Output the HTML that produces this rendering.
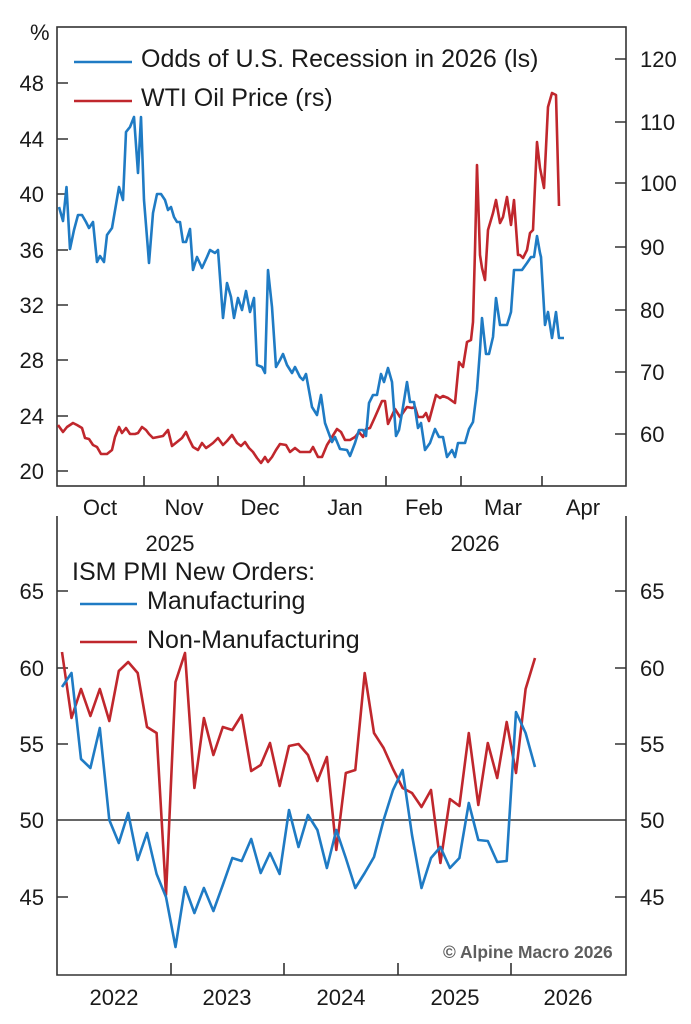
<!DOCTYPE html>
<html><head><meta charset="utf-8"><style>
html,body{margin:0;padding:0;background:#fff;}
svg{display:block;}
text{font-family:"Liberation Sans",Arial,sans-serif;fill:#1a1a1a;}
</style></head><body>
<svg width="691" height="1024" viewBox="0 0 691 1024" xmlns="http://www.w3.org/2000/svg">
<rect width="691" height="1024" fill="#fff"/>
<!-- TOP PANEL -->
<g stroke="#333" stroke-width="1.6" fill="none">
<rect x="57" y="27" width="569" height="459"/>
<path d="M57 83h11M57 139h11M57 194h11M57 250h11M57 305h11M57 360h11M57 416h11M57 471h11"/>
<path d="M615 59h11M615 122h11M615 183h11M615 247h11M615 310h11M615 372h11M615 434h11"/>
<path d="M144 486v-10M218 486v-10M304 486v-10M386 486v-10M461 486v-10M542 486v-10"/>
</g>
<g font-size="22" text-anchor="end">
<text x="44" y="91">48</text><text x="44" y="147">44</text><text x="44" y="202">40</text><text x="44" y="258">36</text>
<text x="44" y="313">32</text><text x="44" y="368">28</text><text x="44" y="424">24</text><text x="44" y="479">20</text>
</g>
<text x="30" y="40" font-size="22">%</text>
<g font-size="22">
<text x="640" y="67">120</text><text x="640" y="130">110</text><text x="640" y="191">100</text><text x="640" y="255">90</text>
<text x="640" y="318">80</text><text x="640" y="380">70</text><text x="640" y="442">60</text>
</g>
<g font-size="22" text-anchor="middle">
<text x="100" y="515">Oct</text><text x="184" y="515">Nov</text><text x="260" y="515">Dec</text><text x="345" y="515">Jan</text>
<text x="424" y="515">Feb</text><text x="503" y="515">Mar</text><text x="583" y="515">Apr</text>
<text x="170" y="551">2025</text><text x="475" y="551">2026</text>
</g>
<!-- legend top -->
<path d="M74 62h58" stroke="#1f7bc4" stroke-width="2.4"/>
<path d="M74 101h58" stroke="#c0272d" stroke-width="2.4"/>
<text x="141" y="67" font-size="25">Odds of U.S. Recession in 2026 (ls)</text>
<text x="141" y="106" font-size="25">WTI Oil Price (rs)</text>
<!-- top series -->
<polyline fill="none" stroke="#c0272d" stroke-width="2.6" stroke-linejoin="round" points="58,425 63,432 67,427 73,423 77,425 82,428 85,438 89,439 93,445 97,447 101,454 107,454 112,450 115,437 119,427 122,433 126,428 130,434 135,434 138,433 142,427 146,430 149,434 153,438 158,437 163,436 168,430 172,446 177,442 182,438 186,432 189,439 193,447 198,450 202,443 206,448 209,446 213,443 218,438 223,445 227,441 232,435 237,443 241,446 245,442 249,448 253,452 257,458 261,463 265,457 268,462 272,457 276,450 280,444 286,445 290,452 295,448 300,452 305,452 310,452 313,447 318,457 322,457 327,445 332,437 337,429 341,432 345,440 350,440 355,437 359,432 363,437 366,429 370,428 375,417 382,401 385,401 388,424 395,409 400,417 407,407 412,408 415,407 418,417 423,417 426,413 429,421 436,395 440,398 443,396 448,398 455,403 459,362 463,367 467,342 471,340 473,322 475,250 477,165 480,255 482,268 485,280 488,230 493,213 496,200 500,223 503,217 507,197 511,225 514,200 518,255 520,255 523,258 527,250 530,233 533,230 537,142 540,168 544,188 548,107 552,93 556,95 559,206"/>
<polyline fill="none" stroke="#1f7bc4" stroke-width="2.6" stroke-linejoin="round" points="59,207 63,221 66.5,187 70,249 74,230 78,215 82,215 86,222 89,228 93,222 97,262 100,256 104,262 107,235 112,228 119,187 123,200 126,132 130,127 134,117 138,173 141,117 144,200 148,250 149,263 153,213 157,194 161,194 165,200 168,210 171,207 174,217 177,222 180,222 183,242 186,242 190,229 193,270 197,257 202,268 207,257 210,250 215,253 218,250 223,318 227,283 231,297 234,318 238,298 242,310 246,291 250,312 254,298 257,365 262,367 265,373 268,270 272,307 276,367 280,360 283,354 287,365 292,373 295,367 300,377 303,380 306,374 312,407 317,415 321,395 325,423 332,442 335,437 340,449 347,450 350,456 355,443 359,430 363,430 366,436 369,403 373,395 377,395 381,374 384,382 388,368 392,382 396,436 399,430 403,407 407,382 410,402 414,402 418,428 421,423 425,450 430,443 435,429 439,437 443,437 447,457 452,450 455,457 458,443 465,443 469,429 473,422 477,390 480,350 482,318 486,354 489,354 493,337 496,298 500,325 507,325 511,312 514,270 522,270 527,263 531,257 534,257 537,236 540,253 541,257 545,325 548,312 552,338 556,312 559,338 564,338"/>

<!-- BOTTOM PANEL -->
<g stroke="#333" stroke-width="1.6" fill="none">
<path d="M57 516V975H626V516"/>
<path d="M57 591h11M57 668h11M57 744h11M57 897h11"/>
<path d="M615 591h11M615 668h11M615 744h11M615 897h11"/>
<path d="M57 820H626"/>
<path d="M171 975v-12M284 975v-12M398 975v-12M511 975v-12"/>
</g>
<g font-size="22" text-anchor="end">
<text x="44" y="599">65</text><text x="44" y="676">60</text><text x="44" y="752">55</text><text x="44" y="828">50</text><text x="44" y="905">45</text>
</g>
<g font-size="22">
<text x="640" y="599">65</text><text x="640" y="676">60</text><text x="640" y="752">55</text><text x="640" y="828">50</text><text x="640" y="905">45</text>
</g>
<g font-size="22" text-anchor="middle">
<text x="114" y="1005">2022</text><text x="227" y="1005">2023</text><text x="341" y="1005">2024</text><text x="455" y="1005">2025</text><text x="568" y="1005">2026</text>
</g>
<text x="72" y="580" font-size="25">ISM PMI New Orders:</text>
<path d="M80 604h57" stroke="#1f7bc4" stroke-width="2.4"/>
<path d="M80 642h57" stroke="#c0272d" stroke-width="2.4"/>
<text x="147" y="609" font-size="25">Manufacturing</text>
<text x="147" y="648" font-size="25">Non-Manufacturing</text>
<polyline fill="none" stroke="#c0272d" stroke-width="2.6" stroke-linejoin="round" points="62,652 71.5,718 81,689 90.4,716 99.8,689 109.3,721 118.8,671 128.2,662 137.7,673 147,727 156.6,733 166,895 175.5,682 185,653 194.4,788 203.9,718 213.4,755 222.8,727 232.3,730 241.7,715 251.2,771 260.7,765 270,743 279.6,786 289,746 298.5,744 308,755 317.4,781 326.9,757 336.3,850 345.8,773 355.3,770 364.7,673 374,733 383.6,748 393,769 402.6,788 412,793 421.5,807 431,790 440.4,863 449.9,799 459.4,806 468.8,733 478.3,805 487.8,743 497.2,778 506.7,722 516,773 525.6,689 535,658"/>
<polyline fill="none" stroke="#1f7bc4" stroke-width="2.6" stroke-linejoin="round" points="62,687 71.5,673 81,759 90.4,768 99.8,728 109.3,820 118.8,843 128.2,813 137.7,860 147,833 156.6,874 166,897 175.5,947 185,887 194.4,913 203.9,888 213.4,911 222.8,885 232.3,858 241.7,861 251.2,839 260.7,873 270,853 279.6,874 289,810 298.5,847 308,815 317.4,830 326.9,868 336.3,830 345.8,858 355.3,888 364.7,873 374,857 383.6,820 393,790 402.6,770 412,835 421.5,888 431,858 440.4,847 449.9,868 459.4,858 468.8,803 478.3,840 487.8,841 497.2,862 506.7,861 516,712 525.6,733 535,767"/>
<text x="443" y="958" font-size="17.4" font-weight="bold" style="fill:#5e5e5e">© Alpine Macro 2026</text>
</svg>
</body></html>
